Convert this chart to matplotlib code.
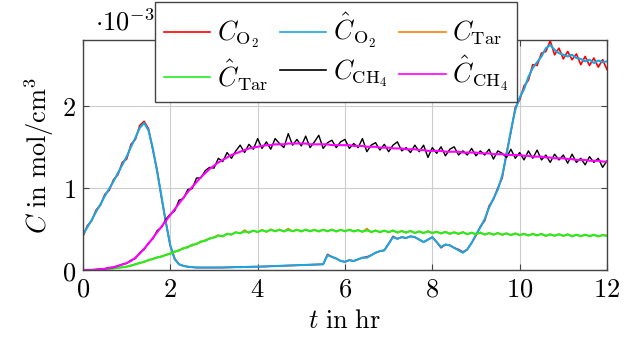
import numpy as np
import matplotlib
matplotlib.use('Agg')
import matplotlib.pyplot as plt
from matplotlib.ticker import FuncFormatter

plt.rcParams['mathtext.fontset'] = 'cm'
plt.rcParams['font.family'] = 'serif'
plt.rcParams['font.serif'] = ['DejaVu Serif']

# time grid in hours, values in 1e-3 mol/cm^3
t_hr = np.round(np.arange(121) * 0.1, 1)

o2_meas = [0.41, 0.54, 0.60, 0.73, 0.79, 0.92, 0.97, 1.10, 1.16, 1.31,
           1.35, 1.53, 1.59, 1.76, 1.81, 1.72, 1.46, 1.21, 0.87, 0.58,
           0.29, 0.14, 0.07, 0.05, 0.04, 0.035, 0.03, 0.03, 0.03, 0.03,
           0.03, 0.03, 0.03, 0.032, 0.033, 0.035, 0.035, 0.037, 0.038, 0.04,
           0.04, 0.042, 0.044, 0.046, 0.048, 0.05, 0.052, 0.054, 0.056, 0.058,
           0.06, 0.062, 0.064, 0.066, 0.068, 0.07, 0.19, 0.16, 0.14, 0.11,
           0.10, 0.12, 0.11, 0.13, 0.15, 0.16, 0.18, 0.21, 0.23, 0.24,
           0.32, 0.41, 0.38, 0.40, 0.39, 0.41, 0.40, 0.37, 0.34, 0.37,
           0.40, 0.34, 0.27, 0.31, 0.30, 0.27, 0.25, 0.22, 0.25, 0.33,
           0.42, 0.53, 0.60, 0.78, 0.86, 1.00, 1.12, 1.43, 1.68, 1.98,
           2.07, 2.24, 2.31, 2.50, 2.49, 2.64, 2.66, 2.79, 2.62, 2.70,
           2.57, 2.66, 2.56, 2.63, 2.50, 2.60, 2.49, 2.58, 2.47, 2.56, 2.44]

o2_est = [0.43, 0.52, 0.61, 0.71, 0.80, 0.90, 0.99, 1.08, 1.18, 1.28,
          1.38, 1.50, 1.61, 1.73, 1.79, 1.70, 1.48, 1.19, 0.89, 0.57,
          0.30, 0.13, 0.07, 0.05, 0.04, 0.035, 0.03, 0.03, 0.03, 0.03,
          0.03, 0.03, 0.03, 0.032, 0.033, 0.035, 0.035, 0.037, 0.038, 0.04,
          0.04, 0.042, 0.044, 0.046, 0.048, 0.05, 0.052, 0.054, 0.056, 0.058,
          0.06, 0.062, 0.064, 0.066, 0.068, 0.07, 0.18, 0.16, 0.14, 0.11,
          0.10, 0.12, 0.11, 0.13, 0.15, 0.15, 0.18, 0.21, 0.23, 0.24,
          0.32, 0.40, 0.38, 0.40, 0.39, 0.41, 0.40, 0.37, 0.34, 0.37,
          0.40, 0.34, 0.28, 0.31, 0.30, 0.27, 0.24, 0.21, 0.25, 0.33,
          0.43, 0.52, 0.62, 0.76, 0.87, 0.98, 1.15, 1.40, 1.70, 1.95,
          2.10, 2.20, 2.35, 2.46, 2.53, 2.60, 2.70, 2.74, 2.68, 2.64,
          2.62, 2.60, 2.62, 2.58, 2.57, 2.54, 2.56, 2.52, 2.55, 2.53, 2.54]

tar_meas = [0.0, 0.0, 0.003, 0.004, 0.007, 0.01, 0.016, 0.02, 0.027, 0.033,
            0.042, 0.05, 0.074, 0.08, 0.104, 0.115, 0.14, 0.148, 0.17, 0.18,
            0.205, 0.218, 0.245, 0.258, 0.285, 0.296, 0.325, 0.338, 0.366, 0.378,
            0.402, 0.425, 0.405, 0.445, 0.428, 0.462, 0.443, 0.486, 0.452, 0.482,
            0.46, 0.49, 0.462, 0.497, 0.468, 0.494, 0.466, 0.505, 0.468, 0.492,
            0.466, 0.495, 0.468, 0.492, 0.466, 0.494, 0.468, 0.495, 0.466, 0.492,
            0.468, 0.494, 0.466, 0.488, 0.462, 0.506, 0.458, 0.484, 0.458, 0.482,
            0.456, 0.484, 0.452, 0.478, 0.452, 0.478, 0.448, 0.472, 0.446, 0.475,
            0.446, 0.468, 0.442, 0.468, 0.437, 0.462, 0.436, 0.464, 0.432, 0.458,
            0.431, 0.459, 0.428, 0.452, 0.427, 0.453, 0.425, 0.449, 0.421, 0.448,
            0.421, 0.443, 0.417, 0.442, 0.418, 0.442, 0.411, 0.437, 0.413, 0.438,
            0.412, 0.437, 0.407, 0.432, 0.408, 0.433, 0.407, 0.432, 0.406, 0.428, 0.42]

tar_est = [0.0, 0.0, 0.002, 0.004, 0.006, 0.01, 0.015, 0.02, 0.026, 0.033,
           0.04, 0.056, 0.068, 0.088, 0.098, 0.123, 0.132, 0.155, 0.162, 0.186,
           0.197, 0.226, 0.236, 0.268, 0.274, 0.308, 0.314, 0.348, 0.354, 0.386,
           0.394, 0.418, 0.412, 0.438, 0.434, 0.458, 0.448, 0.468, 0.458, 0.478,
           0.464, 0.483, 0.468, 0.488, 0.474, 0.489, 0.472, 0.487, 0.474, 0.488,
           0.473, 0.489, 0.474, 0.487, 0.473, 0.488, 0.475, 0.488, 0.472, 0.487,
           0.474, 0.488, 0.473, 0.483, 0.468, 0.482, 0.465, 0.478, 0.464, 0.477,
           0.463, 0.478, 0.459, 0.472, 0.458, 0.473, 0.454, 0.467, 0.453, 0.468,
           0.453, 0.463, 0.448, 0.462, 0.444, 0.457, 0.443, 0.458, 0.438, 0.452,
           0.438, 0.453, 0.434, 0.447, 0.433, 0.448, 0.432, 0.443, 0.428, 0.442,
           0.428, 0.438, 0.423, 0.437, 0.424, 0.437, 0.418, 0.432, 0.419, 0.433,
           0.418, 0.432, 0.413, 0.427, 0.414, 0.428, 0.413, 0.427, 0.412, 0.423, 0.415]

ch4_meas = [0.0, 0.0, 0.0, 0.005, 0.01, 0.015, 0.03, 0.03, 0.05, 0.07,
            0.08, 0.12, 0.14, 0.21, 0.25, 0.33, 0.38, 0.48, 0.52, 0.62,
            0.68, 0.72, 0.85, 0.87, 0.98, 0.99, 1.12, 1.12, 1.21, 1.25,
            1.24, 1.36, 1.32, 1.43, 1.36, 1.45, 1.52, 1.43, 1.53, 1.47,
            1.60, 1.48, 1.56, 1.47, 1.60, 1.54, 1.49, 1.66, 1.52, 1.59,
            1.51, 1.63, 1.49, 1.56, 1.64, 1.48, 1.55, 1.58, 1.49, 1.56,
            1.59, 1.48, 1.54, 1.49, 1.60, 1.44, 1.52, 1.55, 1.46, 1.53,
            1.44, 1.52, 1.56, 1.45, 1.49, 1.43, 1.52, 1.44, 1.52, 1.37,
            1.49, 1.42, 1.50, 1.39, 1.47, 1.50, 1.40, 1.45, 1.40, 1.48,
            1.39, 1.45, 1.40, 1.47, 1.35, 1.45, 1.42, 1.37, 1.47, 1.36,
            1.43, 1.34, 1.45, 1.36, 1.46, 1.34, 1.40, 1.31, 1.41, 1.34,
            1.40, 1.30, 1.41, 1.31, 1.36, 1.28, 1.38, 1.31, 1.36, 1.25, 1.33]

ch4_est = [0.0, 0.0, 0.0, 0.005, 0.01, 0.015, 0.025, 0.035, 0.05, 0.065,
           0.085, 0.11, 0.15, 0.20, 0.26, 0.32, 0.39, 0.46, 0.53, 0.60,
           0.67, 0.74, 0.81, 0.88, 0.95, 1.01, 1.07, 1.13, 1.18, 1.23,
           1.27, 1.31, 1.34, 1.37, 1.40, 1.42, 1.44, 1.46, 1.48, 1.49,
           1.50, 1.51, 1.52, 1.52, 1.53, 1.53, 1.53, 1.54, 1.54, 1.54,
           1.54, 1.54, 1.53, 1.53, 1.53, 1.53, 1.53, 1.52, 1.52, 1.52,
           1.52, 1.52, 1.51, 1.51, 1.51, 1.50, 1.50, 1.50, 1.49, 1.49,
           1.49, 1.48, 1.48, 1.48, 1.47, 1.47, 1.47, 1.46, 1.46, 1.45,
           1.45, 1.45, 1.45, 1.44, 1.44, 1.44, 1.44, 1.43, 1.43, 1.43,
           1.43, 1.42, 1.42, 1.42, 1.41, 1.41, 1.41, 1.40, 1.40, 1.40,
           1.40, 1.39, 1.39, 1.38, 1.38, 1.38, 1.37, 1.37, 1.36, 1.36,
           1.36, 1.35, 1.35, 1.34, 1.34, 1.34, 1.33, 1.33, 1.33, 1.32, 1.32]

labels = [r'$C_{\mathrm{O}_2}$', r'$\hat{C}_{\mathrm{O}_2}$', r'$C_{\mathrm{Tar}}$',
          r'$\hat{C}_{\mathrm{Tar}}$', r'$C_{\mathrm{CH}_4}$', r'$\hat{C}_{\mathrm{CH}_4}$']
colors = ['#ff0000', '#1ba6e0', '#ff8000', '#22ee22', '#000000', '#ff00ff']
widths = [1.2, 1.5, 1.2, 1.5, 1.0, 1.5]
series = [o2_meas, o2_est, tar_meas, tar_est, ch4_meas, ch4_est]

fs = 19

fig = plt.figure(figsize=(6.34, 3.43), dpi=100)
ax = fig.add_axes([0.1309, 0.2128, 0.8265, 0.6706])

handles = []
for y, c, w, lab in zip(series, colors, widths, labels):
    h, = ax.plot(t_hr, y, color=c, lw=w, label=lab)
    handles.append(h)

ax.set_xlim(0, 12)
ax.set_ylim(0, 2.8)
ax.set_xticks([0, 2, 4, 6, 8, 10, 12])
ax.set_yticks([0, 1, 2])
fmt = FuncFormatter(lambda v, p: '$%g$' % v)
ax.xaxis.set_major_formatter(fmt)
ax.yaxis.set_major_formatter(fmt)
ax.tick_params(direction='in', top=True, right=True, length=4, width=0.8,
               labelsize=fs, colors='#444444', labelcolor='black', pad=5)
ax.grid(True, color='#cccccc', lw=0.8)
for s in ax.spines.values():
    s.set_color('#444444')
    s.set_linewidth(1.0)

ax.set_xlabel(r'$t\ \mathrm{in\ hr}$', fontsize=fs, labelpad=4)
ax.set_ylabel(r'$C\ \mathrm{in\ mol/cm}^3$', fontsize=fs, labelpad=4)
ax.text(0.022, 1.02, r'$\cdot 10^{-3}$', transform=ax.transAxes, fontsize=fs,
        ha='left', va='bottom')

# pgfplots fills legend row-wise, matplotlib column-wise
order = [0, 3, 1, 4, 2, 5]
leg = ax.legend([handles[i] for i in order], [labels[i] for i in order],
                ncol=3, loc='upper left', bbox_to_anchor=(0.137, 1.165),
                borderaxespad=0, fontsize=fs, handlelength=1.75,
                columnspacing=0.45, handletextpad=0.25, fancybox=False,
                framealpha=1, edgecolor='#444444', labelspacing=0.25,
                borderpad=0.35)
leg.get_frame().set_linewidth(1.0)
for lh in leg.get_lines():
    lh.set_linewidth(1.2)

fig.savefig('out.png', dpi=100)
